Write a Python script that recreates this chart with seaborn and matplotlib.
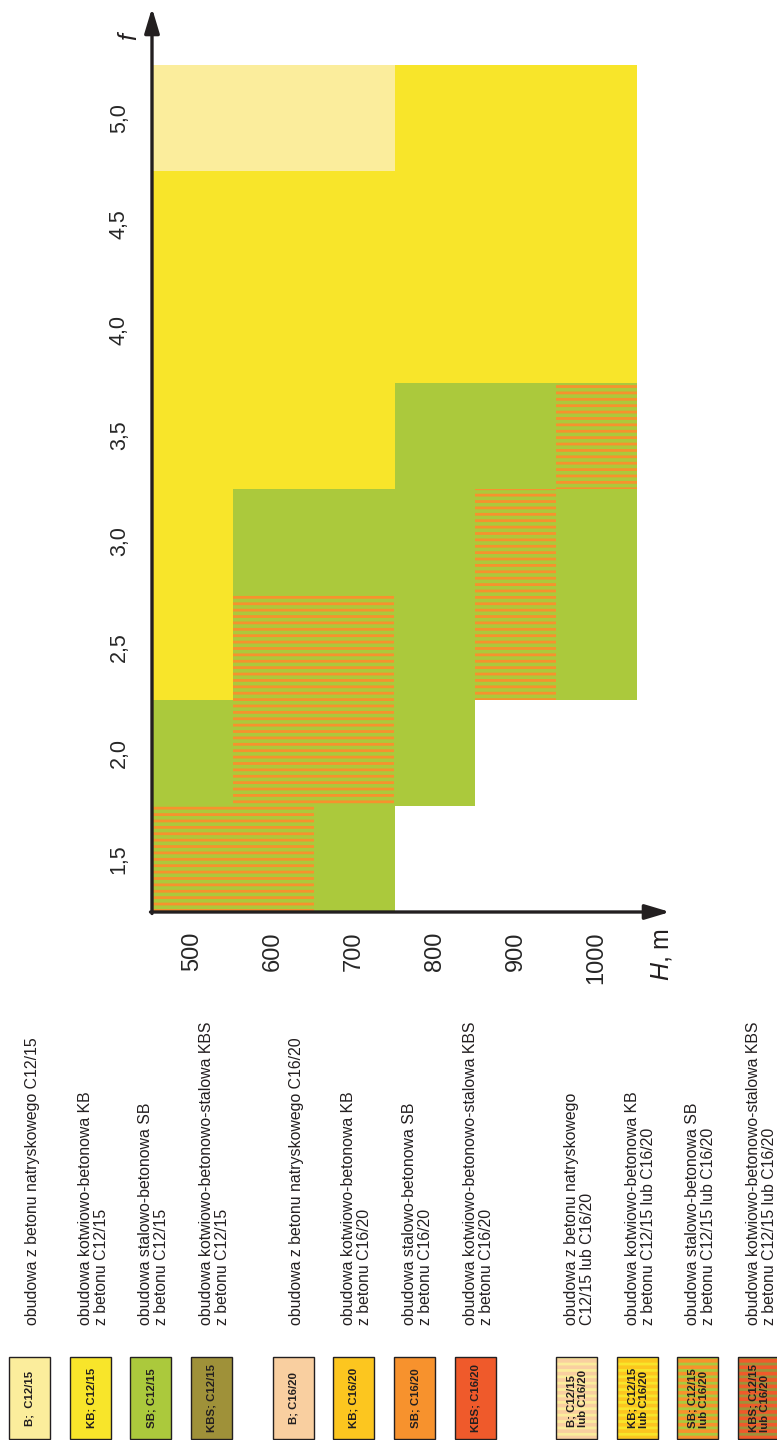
import numpy as np
import matplotlib
matplotlib.use('Agg')
import matplotlib.pyplot as plt
from matplotlib.colors import ListedColormap
from matplotlib.patches import Rectangle
import seaborn as sns

# values
depths = [500, 600, 700, 800, 900, 1000]
f_values = ['5,0', '4,5', '4,0', '3,5', '3,0', '2,5', '2,0', '1,5']
# 0 none, 1 B C12/15, 2 KB C12/15, 3 SB C12/15, 4 SB C12/15 lub C16/20
grid = [[1, 1, 1, 2, 2, 2],
        [2, 2, 2, 2, 2, 2],
        [2, 2, 2, 2, 2, 2],
        [2, 2, 2, 3, 3, 4],
        [2, 3, 3, 3, 4, 3],
        [2, 4, 4, 3, 4, 3],
        [3, 4, 4, 3, 0, 0],
        [4, 4, 3, 0, 0, 0]]

legend_codes = ['B;  C12/15', 'KB; C12/15', 'SB; C12/15', 'KBS; C12/15',
                'B; C16/20', 'KB; C16/20', 'SB; C16/20', 'KBS; C16/20',
                'B; C12/15\nlub C16/20', 'KB; C12/15\nlub C16/20',
                'SB; C12/15\nlub C16/20', 'KBS; C12/15\nlub C16/20']
legend_desc = ['obudowa z betonu natryskowego C12/15',
               'obudowa kotwiowo-betonowa KB\nz betonu C12/15',
               'obudowa stalowo-betonowa SB\nz betonu C12/15',
               'obudowa kotwiowo-betonowo-stalowa KBS\nz betonu C12/15',
               'obudowa z betonu natryskowego C16/20',
               'obudowa kotwiowo-betonowa KB\nz betonu C16/20',
               'obudowa stalowo-betonowa SB\nz betonu C16/20',
               'obudowa kotwiowo-betonowo-stalowa KBS\nz betonu C16/20',
               'obudowa z betonu natryskowego\nC12/15 lub C16/20',
               'obudowa kotwiowo-betonowa KB\nz betonu C12/15 lub C16/20',
               'obudowa stalowo-betonowa SB\nz betonu C12/15 lub C16/20',
               'obudowa kotwiowo-betonowo-stalowa KBS\nz betonu C12/15 lub C16/20']

# colours
c_b12, c_kb12, c_sb12, c_kbs12 = '#fbed9c', '#f8e52a', '#abc93c', '#9f9139'
c_b16, c_kb16, c_sb16, c_kbs16 = '#f9cfa0', '#fcc61f', '#f7922d', '#ef5a2b'
legend_face = [c_b12, c_kb12, c_sb12, c_kbs12, c_b16, c_kb16, c_sb16, c_kbs16,
               c_b16, c_kb16, c_sb16, c_kbs16]
legend_stripe = [None] * 8 + [c_b12, c_kb12, c_sb12, c_kbs12]
dark = '#231f20'

# dpi 115 so the '---' hatch gives stripes ~6.4 px apart; S converts sizes
DPI = 115
S = 100 / DPI

sns.set_style('white')
plt.rcParams['font.family'] = ['Liberation Sans', 'DejaVu Sans']
plt.rcParams['mathtext.fontset'] = 'custom'
plt.rcParams['mathtext.it'] = 'Liberation Sans:italic'
plt.rcParams['hatch.linewidth'] = 2.0 * S

W, H = 777, 1440
fig = plt.figure(figsize=(W / DPI, H / DPI), dpi=DPI)


def fx(px):
    return px / W


def fy(py):
    return 1 - py / H


ax = fig.add_axes([fx(152), fy(912), fx(637) - fx(152), fy(65) - fy(912)])
cmap = ListedColormap(['#ffffff', c_b12, c_kb12, c_sb12, c_sb12])
sns.heatmap(np.array(grid), ax=ax, cmap=cmap, vmin=-0.5, vmax=4.5, cbar=False,
            xticklabels=depths, yticklabels=f_values, linewidths=0)

# striped cells: SB C12/15 lub C16/20
for i, row in enumerate(grid):
    for j, v in enumerate(row):
        if v == 4:
            ax.add_patch(Rectangle((j, i), 1, 1, facecolor='none', edgecolor=c_sb16,
                                   linewidth=0, hatch='---'))

for s in ax.spines.values():
    s.set_visible(False)
ax.tick_params(length=0)
ax.set_yticklabels(f_values, rotation=90, va='center', fontsize=15.5 * S)
ax.set_xticklabels(depths, rotation=90, fontsize=17 * S)
ax.tick_params(axis='y', pad=16 * S)
ax.tick_params(axis='x', pad=14 * S)

# axis arrows
arrow = dict(arrowstyle='-|>,head_length=1.5,head_width=0.45', color=dark, lw=2.4 * S,
             shrinkA=0, shrinkB=0, mutation_scale=10 * S)
ax.annotate('', xy=(0, (912 - 8) / 847), xytext=(0, -1.5 / 847),
            xycoords='axes fraction', arrowprops=arrow, annotation_clip=False)
ax.annotate('', xy=((670 - 152) / 485, 0), xytext=(-1.5 / 485, 0),
            xycoords='axes fraction', arrowprops=arrow, annotation_clip=False)
fig.text(fx(129), fy(36), 'f', style='italic', rotation=90, fontsize=18 * S,
         ha='center', va='center', color=dark)
fig.text(fx(661), fy(928), r'$H$, m', rotation=90, fontsize=18 * S,
         ha='center', va='top', color=dark)

# legend
box_left = [9, 70, 130, 191, 273, 333, 394, 455, 556, 617, 677, 738]
for k, left in enumerate(box_left):
    bx, by = fx(left), fy(1439)
    bw, bh = fx(left + 41) - fx(left), fy(1357) - fy(1439)
    fig.add_artist(Rectangle((bx, by), bw, bh, transform=fig.transFigure,
                             facecolor=legend_face[k], edgecolor='none'))
    if legend_stripe[k]:
        fig.add_artist(Rectangle((bx, by), bw, bh, transform=fig.transFigure,
                                 facecolor='none', edgecolor=legend_stripe[k],
                                 linewidth=0, hatch='---'))
    fig.add_artist(Rectangle((bx, by), bw, bh, transform=fig.transFigure,
                             facecolor='none', edgecolor=dark, linewidth=1.0 * S))
    fig.text(fx(left + 21), fy(1398), legend_codes[k], rotation=90,
             fontsize=8.2 * S, fontweight='bold', ha='center', va='center',
             multialignment='left', linespacing=1.2, color=dark)
    fig.text(fx(left + 23.5), fy(1325), legend_desc[k], rotation=90,
             fontsize=11.4 * S, ha='center', va='bottom', multialignment='left',
             linespacing=1.05, color=dark)

fig.savefig('out.png', dpi=DPI)
